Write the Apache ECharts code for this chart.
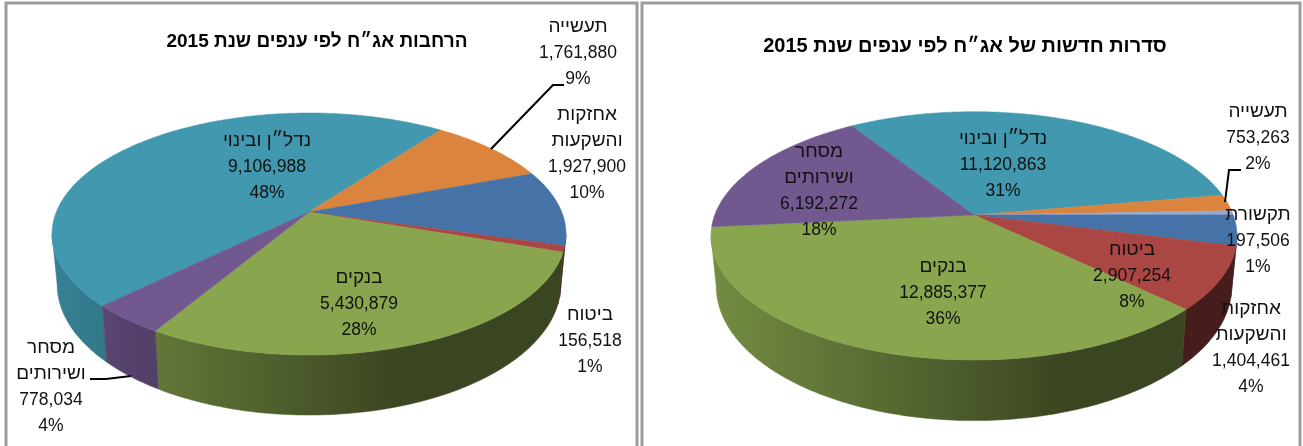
<!DOCTYPE html>
<html lang="he" dir="rtl">
<head>
<meta charset="utf-8">
<title>אג״ח לפי ענפים 2015</title>
<style>
  html, body { margin: 0; padding: 0; background: #fff; }
  #chart { width: 1303px; height: 446px; }
</style>
<script src="https://cdn.jsdelivr.net/npm/echarts@6/dist/echarts.min.js"></script>
</head>
<body>
<div id="chart"></div>
<script>
const TEAL = "#4198af";
const ORANGE = "#db843d";
const LIGHT = "#93a9cf";
const BLUE = "#4572a7";
const RED = "#aa4643";
const GREEN = "#89a54e";
const PURPLE = "#71588f";

// left chart: expansions
const leftNames = ["נדל״ן ובינוי", "תעשייה", "אחזקות\nוהשקעות", "ביטוח", "בנקים", "מסחר\nושירותים"];
const leftValues = [9106988, 1761880, 1927900, 156518, 5430879, 778034];
const leftPercents = ["48%", "9%", "10%", "1%", "28%", "4%"];
const leftColors = [TEAL, ORANGE, BLUE, RED, GREEN, PURPLE];

// right chart: new series
const rightNames = ["נדל״ן ובינוי", "תעשייה", "תקשורת", "אחזקות\nוהשקעות", "ביטוח", "בנקים", "מסחר\nושירותים"];
const rightValues = [11120863, 753263, 197506, 1404461, 2907254, 12885377, 6192272];
const rightPercents = ["31%", "2%", "1%", "4%", "8%", "36%", "18%"];
const rightColors = [TEAL, ORANGE, LIGHT, BLUE, RED, GREEN, PURPLE];

const leftTitle = "הרחבות אג״ח לפי ענפים שנת 2015";
const rightTitle = "סדרות חדשות של אג״ח לפי ענפים שנת 2015";

// where each label sits: centre x, y of first line
const leftLabelPos = [[267, 141], [578, 27], [587, 115], [590, 315], [359, 278], [51, 348]];
const rightLabelPos = [[1003, 139], [1258, 112], [1258, 215], [1251, 309], [1132, 250], [943, 267], [819, 152]];

const leftLeaders = { 1: [[491, 149], [553, 85], [564, 85]], 5: [[90, 379], [106, 379], [131, 376]] };
const rightLeaders = { 1: [[1225, 202], [1229, 170], [1241, 170]] };

// perspective of the disc: apex, far/near half heights, half width, wall drop
const leftGeom = { cx: 309, cy: 212, near: 143, far: 99, rx: 257, drop: 48.6, start: -134.5 };
const rightGeom = { cx: 974, cy: 215, near: 145, far: 103.3, rx: 263, drop: 49, start: -32.6 };

const NAME_FONT = '19px "Liberation Sans", "DejaVu Sans", sans-serif';
const NUM_FONT = '17.5px "Liberation Sans", "DejaVu Sans", sans-serif';
const LINE_H = 26;

function setupGeom(g) {
  g.k = (g.near - g.far) / (g.near + g.far);
  g.h = g.near * (1 - g.k);
  g.r = g.rx * Math.sqrt(1 - g.k * g.k);
  // rim angles where the wall turns away from the viewer
  g.wallFrom = 90 + (Math.asin(g.k) * 180) / Math.PI;
  g.wallTo = 360 - g.wallFrom;
  return g;
}

// angle in degrees, clockwise from the back of the disc
function rimPoint(g, deg, bottom) {
  const a = (deg * Math.PI) / 180;
  const X = Math.sin(a);
  const Y = -Math.cos(a);
  const w = 1 - g.k * Y;
  const px = (g.r * X) / w;
  const py = (g.h * Y) / w;
  if (bottom) return [g.cx + px * 0.98, g.cy + g.drop + py * 1.08];
  return [g.cx + px, g.cy + py];
}

function sliceAngles(values, start) {
  const total = values.reduce((a, b) => a + b, 0);
  let cur = start;
  return values.map((v) => {
    const from = cur;
    cur += (v / total) * 360;
    return [from, cur];
  });
}

function shade(hex, f) {
  const n = parseInt(hex.slice(1), 16);
  const c = [n >> 16, (n >> 8) & 255, n & 255].map((x) => Math.round(x * f));
  return `rgb(${c[0]},${c[1]},${c[2]})`;
}

function arc(g, from, to, bottom) {
  const pts = [];
  const steps = Math.max(2, Math.ceil(to - from));
  for (let i = 0; i <= steps; i++) {
    pts.push(rimPoint(g, from + ((to - from) * i) / steps, bottom));
  }
  return pts;
}

// part of a slice's rim that faces the viewer, or null
function frontPart(g, from, to) {
  for (const shift of [0, -360]) {
    const a = Math.max(from, g.wallFrom + shift);
    const b = Math.min(to, g.wallTo + shift);
    if (b > a) return [a, b];
  }
  return null;
}

function wallSeries(values, colors, g) {
  const angles = sliceAngles(values, g.start);
  return {
    type: "custom",
    coordinateSystem: "none",
    z: 1,
    silent: true,
    data: values.map((v) => [v]),
    renderItem(params) {
      const i = params.dataIndex;
      const part = frontPart(g, angles[i][0], angles[i][1]);
      if (!part) return null;
      const points = arc(g, part[0], part[1], false).concat(arc(g, part[0], part[1], true).reverse());
      const fill = new echarts.graphic.LinearGradient(
        g.cx - g.rx, 0, g.cx + g.rx, 0,
        [
          { offset: 0, color: shade(colors[i], 0.85) },
          { offset: 0.68, color: shade(colors[i], 0.42) },
          { offset: 1, color: shade(colors[i], 0.42) },
        ],
        true
      );
      return { type: "polygon", shape: { points }, style: { fill, stroke: fill, lineWidth: 0.5 } };
    },
  };
}

function topSeries(values, colors, g) {
  const angles = sliceAngles(values, g.start);
  return {
    type: "custom",
    coordinateSystem: "none",
    z: 2,
    silent: true,
    data: values.map((v) => [v]),
    renderItem(params) {
      const i = params.dataIndex;
      const [from, to] = angles[i];
      const points = [[g.cx, g.cy]].concat(arc(g, from, to, false));
      return {
        type: "polygon",
        shape: { points },
        style: { fill: colors[i], stroke: colors[i], lineWidth: 0.5 },
      };
    },
  };
}

function labelSeries(names, values, percents, pos, leaders) {
  return {
    type: "custom",
    coordinateSystem: "none",
    z: 3,
    silent: true,
    data: values.map((v) => [v]),
    renderItem(params, api) {
      const i = params.dataIndex;
      const nameLines = names[i].split("\n");
      const lines = nameLines.concat([Number(api.value(0)).toLocaleString("en-US"), percents[i]]);
      const children = lines.map((text, n) => ({
        type: "text",
        style: {
          text,
          x: pos[i][0],
          y: pos[i][1] + n * LINE_H,
          align: "center",
          verticalAlign: "middle",
          font: n < nameLines.length ? NAME_FONT : NUM_FONT,
          fill: "#111",
        },
      }));
      if (leaders[i]) {
        children.push({
          type: "polyline",
          shape: { points: leaders[i] },
          style: { fill: "none", stroke: "#000", lineWidth: 2 },
        });
      }
      return { type: "group", children };
    },
  };
}

function titleOption(text, left, top, size) {
  return {
    text,
    left,
    top,
    textAlign: "center",
    textStyle: { fontFamily: '"Liberation Sans", sans-serif', fontSize: size, fontWeight: "bold", color: "#000" },
  };
}

function frame(x, w) {
  return {
    type: "rect",
    shape: { x, y: 3, width: w, height: 460 },
    style: { fill: "none", stroke: "#9c9c9c", lineWidth: 3 },
    z: 0,
    silent: true,
  };
}

setupGeom(leftGeom);
setupGeom(rightGeom);

const chart = echarts.init(document.getElementById("chart"), null, { renderer: "canvas" });
chart.setOption({
  animation: false,
  backgroundColor: "#fff",
  title: [titleOption(leftTitle, 312, 27, 19), titleOption(rightTitle, 960, 31, 20)],
  graphic: { elements: [frame(6, 631), frame(642, 658)] },
  series: [
    wallSeries(leftValues, leftColors, leftGeom),
    topSeries(leftValues, leftColors, leftGeom),
    labelSeries(leftNames, leftValues, leftPercents, leftLabelPos, leftLeaders),
    wallSeries(rightValues, rightColors, rightGeom),
    topSeries(rightValues, rightColors, rightGeom),
    labelSeries(rightNames, rightValues, rightPercents, rightLabelPos, rightLeaders),
  ],
});
</script>
</body>
</html>
